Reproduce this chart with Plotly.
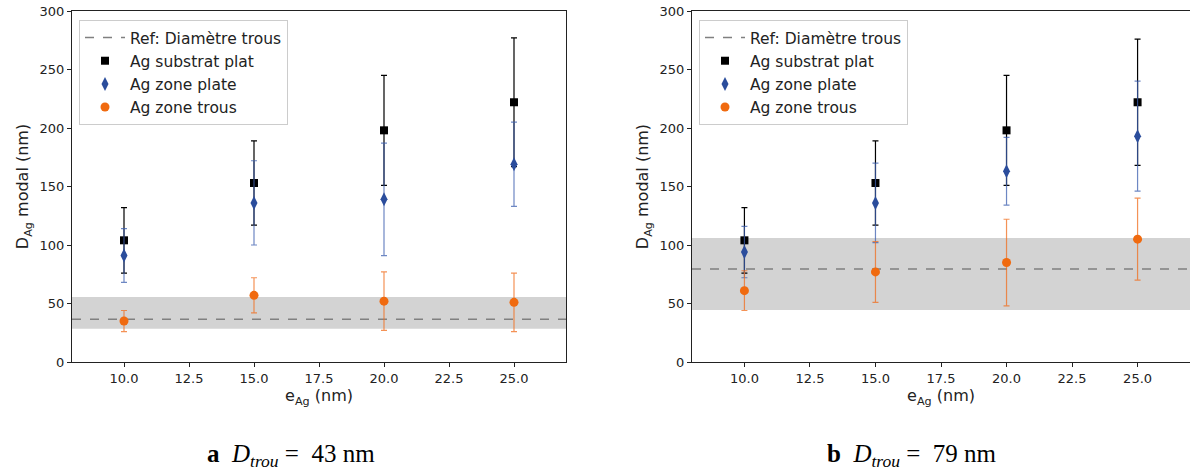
import plotly.graph_objects as go

# ---------------- data ----------------
e_ag = [10, 15, 20, 25]

# panel a (D_trou = 43 nm)
a_plat_sub = [104, 153, 198, 222]
a_plat_sub_err = [28, 36, 47, 55]
a_zone_plate = [91, 136, 139, 169]
a_zone_plate_err = [23, 36, 48, 36]
a_zone_trous = [35, 57, 52, 51]
a_zone_trous_err = [9, 15, 25, 25]
a_ref = 36.5
a_band = [28.5, 55.5]

# panel b (D_trou = 79 nm)
b_plat_sub = [104, 153, 198, 222]
b_plat_sub_err = [28, 36, 47, 54]
b_zone_plate = [94, 136, 163, 193]
b_zone_plate_err = [22, 34, 29, 47]
b_zone_trous = [61, 77, 85, 105]
b_zone_trous_err = [17, 26, 37, 35]
b_ref = 79.5
b_band = [44.5, 106]

x_lim = [8, 27]
y_lim = [0, 300]
x_ticks = [10, 12.5, 15, 17.5, 20, 22.5, 25]
y_ticks = [0, 50, 100, 150, 200, 250, 300]

captions = ["<b>a</b>&nbsp;&nbsp;<i>D</i><sub><i>trou</i></sub>&nbsp;=&nbsp;&nbsp;43&nbsp;nm",
            "<b>b</b>&nbsp;&nbsp;<i>D</i><sub><i>trou</i></sub>&nbsp;=&nbsp;&nbsp;79&nbsp;nm"]

# ---------------- styles ----------------
BLACK = "#000000"
BLUE = "#2b4d9c"
BLUE_ERR = "rgba(60,95,175,0.75)"
ORANGE = "#f06a0f"
ORANGE_ERR = "rgba(240,110,30,0.75)"
REF = "#808080"
BAND = "#d3d3d3"
FONT = "DejaVu Sans"

W, H = 1190, 474


def fx(px):
    return px / W


def fy(py):
    return 1 - py / H


# axis pixel boxes (page coordinates)
left_px = [(72, 566), (692, 1192)]
top_px, bot_px = 11, 362

fig = go.Figure()

panels = [
    (a_plat_sub, a_plat_sub_err, a_zone_plate, a_zone_plate_err,
     a_zone_trous, a_zone_trous_err, a_ref, a_band),
    (b_plat_sub, b_plat_sub_err, b_zone_plate, b_zone_plate_err,
     b_zone_trous, b_zone_trous_err, b_ref, b_band),
]

for i, (ps, pse, zp, zpe, zt, zte, ref, band) in enumerate(panels):
    xa = "x" if i == 0 else "x2"
    ya = "y" if i == 0 else "y2"
    leg = "legend" if i == 0 else "legend2"

    fig.add_shape(type="rect", xref=f"{xa} domain", yref=ya,
                  x0=0, x1=1, y0=band[0], y1=band[1],
                  fillcolor=BAND, line_width=0, layer="below")

    fig.add_trace(go.Scatter(
        x=x_lim, y=[ref, ref], mode="lines", name="Ref: Diamètre trous",
        line=dict(color=REF, width=1.5, dash="dash"),
        xaxis=xa, yaxis=ya, legend=leg))

    fig.add_trace(go.Scatter(
        x=e_ag, y=ps, mode="markers", name="Ag substrat plat",
        marker=dict(symbol="square", size=8, color=BLACK),
        error_y=dict(type="data", array=pse, visible=True, color=BLACK,
                     thickness=1.2, width=3),
        xaxis=xa, yaxis=ya, legend=leg))

    fig.add_trace(go.Scatter(
        x=e_ag, y=zp, mode="markers", name="Ag zone plate",
        marker=dict(symbol="diamond-tall", size=10, color=BLUE),
        error_y=dict(type="data", array=zpe, visible=True, color=BLUE_ERR,
                     thickness=1.2, width=3),
        xaxis=xa, yaxis=ya, legend=leg))

    fig.add_trace(go.Scatter(
        x=e_ag, y=zt, mode="markers", name="Ag zone trous",
        marker=dict(symbol="circle", size=9, color=ORANGE),
        error_y=dict(type="data", array=zte, visible=True, color=ORANGE_ERR,
                     thickness=1.2, width=3),
        xaxis=xa, yaxis=ya, legend=leg))

axis_common = dict(
    showline=True, linecolor="#222222", linewidth=1, mirror=True,
    ticks="outside", ticklen=4, tickwidth=1, tickcolor="#222222",
    showgrid=False, zeroline=False, automargin=False,
    tickfont=dict(family=FONT, size=13, color="#222222"),
)

ydom = [fy(bot_px), fy(top_px)]

for i in range(2):
    sx = "" if i == 0 else "2"
    fig.update_layout(**{
        f"xaxis{sx}": dict(
            axis_common, domain=[fx(left_px[i][0]), min(1.0, fx(left_px[i][1]))],
            range=x_lim, tickvals=x_ticks, tickformat=".1f",
            anchor="y" + sx,
            title=dict(text="e<sub>Ag</sub> (nm)", standoff=5,
                       font=dict(family=FONT, size=16, color="#222222"))),
        f"yaxis{sx}": dict(
            axis_common, domain=ydom, range=y_lim,
            tickvals=y_ticks, anchor="x" + sx,
            title=dict(text="D<sub>Ag</sub> modal (nm)", standoff=6,
                       font=dict(family=FONT, size=16, color="#222222"))),
    })

legend_common = dict(
    bgcolor="rgba(255,255,255,0.85)", bordercolor="#cccccc", borderwidth=1,
    font=dict(family=FONT, size=15.5, color="#222222"),
    xanchor="left", yanchor="top", tracegroupgap=0, itemwidth=40,
)
fig.update_layout(
    legend=dict(legend_common, x=fx(79), y=fy(20)),
    legend2=dict(legend_common, x=fx(699), y=fy(20)),
)

cap_x = [291, 912]
for i, txt in enumerate(captions):
    fig.add_annotation(
        text=txt, x=fx(cap_x[i]), y=fy(455), xref="paper", yref="paper",
        showarrow=False, xanchor="center", yanchor="middle",
        font=dict(family="Liberation Serif", size=25, color="#000000"))

fig.update_layout(
    width=W, height=H,
    margin=dict(l=0, r=0, t=0, b=0, autoexpand=False),
    paper_bgcolor="white", plot_bgcolor="white",
    showlegend=True,
    font=dict(family=FONT),
)

fig.write_html(
    "out.html",
    config={"displayModeBar": False},
    post_script="document.body.style.margin='0px';"
                "document.body.style.overflow='hidden';",
)
